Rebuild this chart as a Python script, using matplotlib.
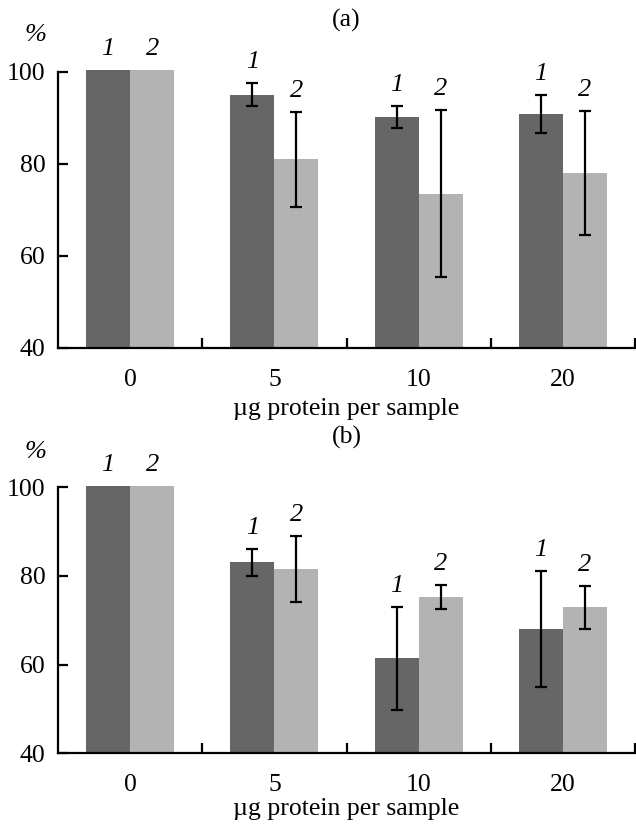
import matplotlib
matplotlib.use("Agg")
import matplotlib.pyplot as plt
import numpy as np

plt.rcParams['font.family'] = ['Liberation Serif', 'DejaVu Serif']

categories = ["0", "5", "10", "20"]
xlabel = "µg protein per sample"

# Panel (a)
a_s1 = [100.4, 95.1, 90.3, 90.9]
a_s1_err = [0, 2.6, 2.4, 4.1]
a_s2 = [100.4, 81.0, 73.5, 78.0]
a_s2_err = [0, 10.4, 18.2, 13.5]

# Panel (b)
b_s1 = [100.2, 83.0, 61.4, 68.0]
b_s1_err = [0, 3.0, 11.6, 13.1]
b_s2 = [100.2, 81.5, 75.2, 72.9]
b_s2_err = [0, 7.4, 2.8, 4.9]

series_labels = ["1", "2"]
panel_titles = ["(a)", "(b)"]

W, H = 636, 825
fig = plt.figure(figsize=(W / 100, H / 100), dpi=100)

dark = "#666666"
light = "#b3b3b3"
bw = 0.305
YMAX = 101.0

def px_axes(left, right, y100, y40):
    ppu = (y40 - y100) / 60.0
    top = y100 - (YMAX - 100) * ppu
    return [left / W, 1 - y40 / H, (right - left) / W, (y40 - top) / H]

panels = [
    (px_axes(58, 635, 72, 347.7), a_s1, a_s1_err, a_s2, a_s2_err, 20, 35, 415),
    (px_axes(58, 635, 487, 753.3), b_s1, b_s1_err, b_s2, b_s2_err, 437, 452, 815),
]

for (rect, s1, e1, s2, e2, ty, py, xy), title in zip(panels, panel_titles):
    ax = fig.add_axes(rect)
    x = np.arange(len(categories))
    ax.bar(x - bw / 2, s1, width=bw, color=dark, zorder=2)
    ax.bar(x + bw / 2, s2, width=bw, color=light, zorder=2)
    for xs, vals, errs, lab in [(x - bw / 2, s1, e1, series_labels[0]),
                                (x + bw / 2, s2, e2, series_labels[1])]:
        for xi, v, e in zip(xs, vals, errs):
            if e > 0:
                ax.errorbar(xi, v, yerr=e, fmt='none', ecolor='black', elinewidth=1.6,
                            capsize=4.5, capthick=1.6, zorder=3)
            ax.annotate(lab, (xi, v + e), xytext=(0, 15), textcoords='offset points',
                        ha='center', va='center', fontsize=19, style='italic',
                        annotation_clip=False)

    ax.set_xlim(-0.5, len(categories) - 0.5)
    ax.set_ylim(40, YMAX)
    for s in ['top', 'right']:
        ax.spines[s].set_visible(False)
    for s in ['left', 'bottom']:
        ax.spines[s].set_linewidth(1.6)
    ax.spines['left'].set_bounds(40, 100)
    ax.set_yticks([40, 60, 80, 100])
    ax.tick_params(axis='y', direction='in', length=7, width=1.6, labelsize=18.5, pad=9)
    ax.set_xticks(x)
    ax.set_xticklabels(categories)
    ax.set_xticks(np.arange(len(categories)) + 0.5, minor=True)
    ax.tick_params(axis='x', which='major', length=0, labelsize=18.5, pad=15)
    ax.tick_params(axis='x', which='minor', direction='in', length=7, width=1.6)

    cx = (58 + 635) / 2 / W
    fig.text(cx, 1 - ty / H, title, ha='center', va='center', fontsize=18.5)
    fig.text(35 / W, 1 - py / H, "%", ha='center', va='center', fontsize=19, style='italic')
    fig.text(cx, 1 - xy / H, xlabel, ha='center', va='baseline', fontsize=18.5)

fig.savefig("out.png", dpi=100)
